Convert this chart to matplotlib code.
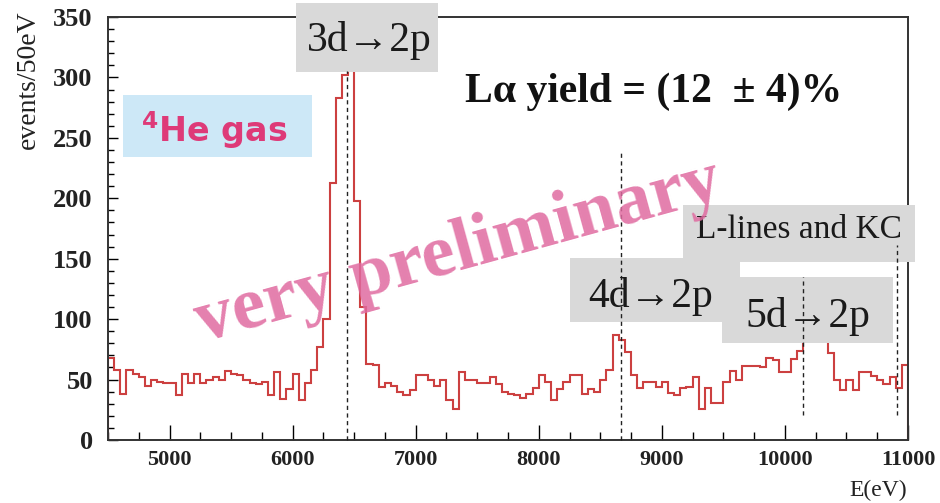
import numpy as np
import matplotlib
matplotlib.use("Agg")
import matplotlib.pyplot as plt
from matplotlib.patches import Rectangle
from matplotlib.ticker import MultipleLocator

# ---------------- data ----------------
bin_start = 4500      # eV
bin_width = 50        # eV
counts = [
    68, 58, 38, 58, 55, 52, 45, 50, 48, 47,      # 4500-4950
    47, 37, 55, 47, 55, 47, 50, 52, 50, 57,      # 5000-5450
    55, 54, 50, 47, 46, 48, 37, 56, 34, 42,      # 5500-5950
    55, 33, 47, 58, 77, 100, 213, 283, 302, 345, # 6000-6450
    198, 110, 63, 62, 44, 47, 45, 40, 37, 41,    # 6500-6950
    54, 54, 50, 45, 50, 33, 26, 56, 50, 50,      # 7000-7450
    47, 47, 52, 46, 40, 38, 37, 35, 38, 43,      # 7500-7950
    54, 48, 33, 42, 48, 54, 54, 38, 42, 40,      # 8000-8450
    50, 58, 87, 83, 73, 54, 43, 48, 48, 44,      # 8500-8950
    48, 39, 37, 43, 44, 52, 26, 43, 31, 31,      # 9000-9450
    48, 57, 50, 61, 61, 61, 60, 68, 66, 56,      # 9500-9950
    56, 67, 74, 82, 92, 95, 85, 72, 50, 41,      # 10000-10450
    50, 41, 56, 56, 53, 50, 46, 52, 43, 62,      # 10500-10950
]
line_energies = [6440, 8667, 10150, 10910]          # dashed marker lines (eV)
line_ranges = [(0, 305), (0, 240), (21, 135), (21, 161)]
x_ticks = [5000, 6000, 7000, 8000, 9000, 10000, 11000]
y_ticks = [0, 50, 100, 150, 200, 250, 300, 350]

edges = bin_start + bin_width * np.arange(len(counts) + 1)

# ---------------- figure ----------------
W, H = 940, 503
fig = plt.figure(figsize=(W / 100, H / 100), dpi=100)
fig.patch.set_facecolor("white")

def fx(px):
    return px / W

def fy(py):
    return 1 - py / H

ax = fig.add_axes([fx(108), fy(440), fx(908) - fx(108), fy(17) - fy(440)])
ax.set_xlim(4500, 11000)
ax.set_ylim(0, 350)

ax.stairs(counts, edges, baseline=0, fill=False, color="#cc4040",
          linewidth=1.5, zorder=2)

serif = "Liberation Serif"
ax.set_xticks(x_ticks)
ax.set_yticks(y_ticks)
ax.xaxis.set_minor_locator(MultipleLocator(250))
ax.yaxis.set_minor_locator(MultipleLocator(10))
ax.tick_params(axis="x", which="major", direction="in", length=11, width=1,
               pad=7, top=False)
ax.tick_params(axis="x", which="minor", direction="in", length=6, width=1, top=False)
ax.tick_params(axis="y", which="major", direction="in", length=7, width=1,
               pad=11, right=False)
ax.tick_params(axis="y", which="minor", direction="in", length=4, width=1, right=False)
for lab in ax.get_xticklabels():
    lab.set_fontfamily(serif)
    lab.set_fontweight("bold")
    lab.set_fontsize(16)
    lab.set_color("#222222")
for lab in ax.get_yticklabels():
    lab.set_fontfamily(serif)
    lab.set_fontweight("bold")
    lab.set_fontsize(19)
    lab.set_color("#222222")
for sp in ax.spines.values():
    sp.set_linewidth(1.4)
    sp.set_color("#333333")

# axis titles (ROOT style, aligned to the ends of the axes)
fig.text(fx(28), fy(10), "events/50eV", rotation=90, ha="center", va="top",
         fontfamily=serif, fontsize=20, color="#222222")
fig.text(fx(907), fy(501), "E(eV)", ha="right", va="bottom",
         fontfamily=serif, fontsize=17, color="#222222")

# dashed marker lines
for e, (y0, y1) in zip(line_energies, line_ranges):
    ax.plot([e, e], [y0, y1], color="#222222", linestyle=(0, (3, 2.5)),
            linewidth=1.0, zorder=6, clip_on=False)

# label boxes (figure pixel coordinates)
def box(x0, y0, x1, y1, color, z=4):
    r = Rectangle((fx(x0), fy(y1)), fx(x1) - fx(x0), fy(y0) - fy(y1),
                  transform=fig.transFigure, facecolor=color, edgecolor="none",
                  zorder=z, clip_on=False)
    ax.add_artist(r)

gray = "#d9d9d9"
box(296, 3, 438, 72, gray)
box(683, 205, 915, 262, gray)
box(570, 258, 740, 322, gray)
box(722, 277, 893, 343, gray)
box(123, 95, 312, 157, "#cde8f7")

def ftext(px, py, s, **kw):
    ax.text(fx(px), fy(py), s, transform=fig.transFigure, clip_on=False,
            zorder=7, **kw)

ftext(369, 40, "3d\u21922p", ha="center", va="center", fontfamily=serif,
      fontsize=30, color="#1a1a1a")
ftext(651, 296, "4d\u21922p", ha="center", va="center", fontfamily=serif,
      fontsize=30, color="#1a1a1a")
ftext(808, 316, "5d\u21922p", ha="center", va="center", fontfamily=serif,
      fontsize=30, color="#1a1a1a")
ftext(799, 230, "L-lines and KC", ha="center", va="center", fontfamily=serif,
      fontsize=24, color="#1a1a1a")
ftext(654, 92, "L\u03b1 yield = (12  \u00b1 4)%", ha="center", va="center",
      fontfamily=serif, fontweight="bold", fontsize=30, color="#111111")
ftext(214, 130, r"$^{\mathbf{4}}$He gas", ha="center", va="center",
      fontfamily="DejaVu Sans", fontweight="bold", fontsize=24, color="#de3a78")

# watermark
ftext(458, 252, "very preliminary", ha="center", va="center",
      rotation=15.4, rotation_mode="anchor", fontfamily=serif,
      fontweight="bold", fontsize=54, color="#e06aa0", alpha=0.85)

fig.savefig("out.png", dpi=100, facecolor="white")
